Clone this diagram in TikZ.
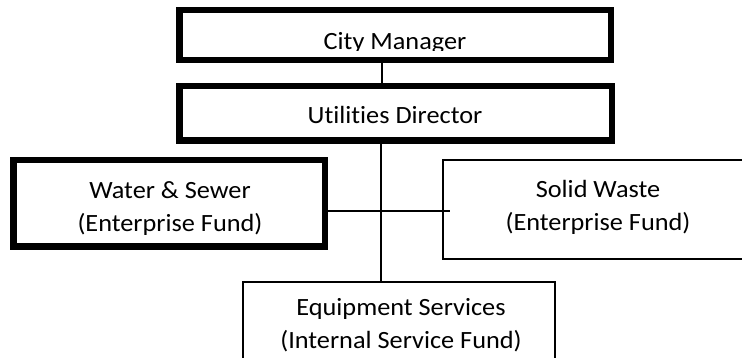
\documentclass[tikz,border=0pt]{standalone}
\usepackage{fontspec}
\setmainfont{Carlito}[FakeStretch=1.06,Ligatures=NoCommon]
\begin{document}
\begin{tikzpicture}[x=1pt,y=-1pt,
  thickbox/.style={draw=black,line width=6.5pt,inner sep=0pt,outer sep=0pt,fill=white},
  thinbox/.style={draw=black,line width=1.5pt,inner sep=0pt,outer sep=0pt,fill=white},
  txt/.style={inner sep=0pt,outer sep=0pt,align=center,anchor=base,
    font=\fontsize{24.8}{33}\selectfont},
  conn/.style={draw=black,line width=1.5pt}]
\useasboundingbox (0,0) rectangle (742,358);
\clip (0,0) rectangle (742,358);
% boxes
\node[thickbox,minimum width=431.5pt,minimum height=50pt] (cm) at (395,35.25) {};
\node[thickbox,minimum width=432.5pt,minimum height=54.5pt] (ud) at (395.5,113.5) {};
\node[thickbox,minimum width=311.5pt,minimum height=86.5pt] (ws) at (169,203.5) {};
\node[thinbox,minimum width=357pt,minimum height=99pt] (sw) at (621.5,209.5) {};
\node[thinbox,minimum width=312pt,minimum height=138pt] (es) at (399,351) {};
% connectors
\coordinate (vxa) at (382,0);
\coordinate (vxb) at (381,0);
\coordinate (hend) at (450,211);
\draw[conn] (cm.south -| vxa) -- (ud.north -| vxa);
\draw[conn] (ud.south -| vxb) -- (es.north -| vxb);
\draw[conn] (ws.east |- hend) -- (hend);
% texts
\begin{scope}
\clip (180,14) rectangle (610,51);
\node[txt] (cmt) at (395,49.5) {City Manager};
\end{scope}
\node[txt] (udt) at (395,124) {Utilities Director};
\node[txt] (wst) at (170,231.5) {Water \& Sewer\\(Enterprise Fund)};
\node[txt] (swt) at (598,230.5) {Solid Waste\\(Enterprise Fund)};
\node[txt] (est) at (401,348.5) {Equipment Services\\(Internal Service Fund)};
\end{tikzpicture}
\end{document}
